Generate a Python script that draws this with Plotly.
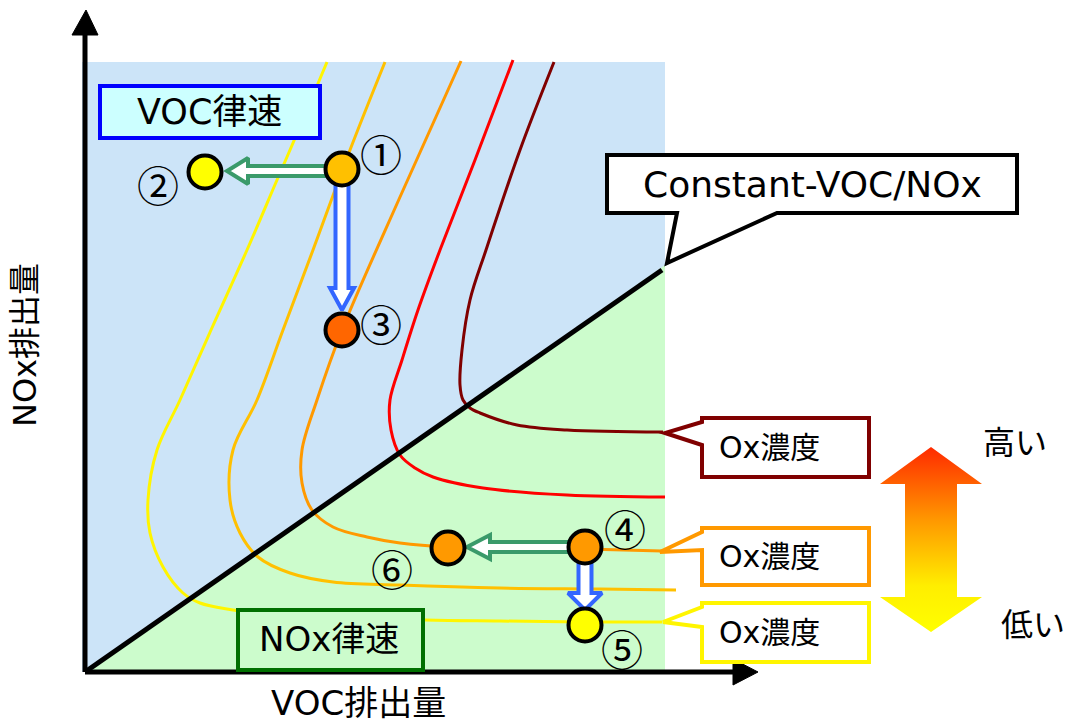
import math
import plotly.graph_objects as go

# coordinates: VOC emission (x) / NOx emission (y), origin at the axes corner
# ---- Ox isopleths (low -> high) ----
iso_colors = ['#FFF500', '#FFC000', '#FF9900', '#FF0000', '#800000']
iso_yellow_x = [242, 208, 192, 162, 126, 95, 72, 63, 65, 78, 98, 115, 148, 175, 340, 415, 500, 577]
iso_yellow_y = [610, 529, 492, 422, 342, 272, 222, 172, 139, 105, 79, 69, 62, 58, 52, 51, 50, 50]
iso_amber_x = [300, 265, 228, 198, 172, 148, 145, 155, 173, 205, 248, 315, 415, 515, 591]
iso_amber_y = [610, 522, 422, 342, 272, 222, 172, 139, 115, 99, 90, 87, 84, 83, 82]
iso_orange_x = [376, 315, 257, 232, 217, 217, 227, 248, 282, 315, 363, 500, 577]
iso_orange_y = [611, 475, 342, 272, 222, 189, 162, 145, 135, 129, 125, 123, 121]
iso_red_x = [428, 390, 355, 333, 317, 305, 306, 315, 330, 348, 398, 482, 580]
iso_red_y = [612, 512, 422, 362, 312, 272, 242, 217, 204, 195, 184, 177, 175]
iso_dark_x = [469, 435, 401, 385, 377, 375, 378, 385, 395, 432, 482, 578]
iso_dark_y = [610, 522, 422, 372, 322, 287, 272, 264, 259, 247, 242, 240]

# ---- scenario points ----
pt_labels = ['①', '②', '③', '④', '⑤', '⑥']
pt_x = [257, 120, 257, 500, 500, 363]
pt_y = [503, 500, 342, 125, 47, 124]
pt_colors = ['#FFC000', '#FFFF00', '#FF6600', '#FF9900', '#FFFF00', '#FF9900']
lbl_x = [296, 73, 296, 540, 537, 307]
lbl_y = [520, 489, 350, 145, 25, 105]

# ---- emission-reduction arrows (start -> end) ----
arr_x0 = [245, 257, 488, 500]
arr_y0 = [501, 490, 125, 112]
arr_x1 = [142, 257, 382, 500]
arr_y1 = [501, 362, 125, 62]
arr_colors = ['#3A9A6A', '#3366FF', '#3A9A6A', '#3366FF']
arr_shaft = [5, 6.5, 5, 6.5]
arr_head_w = [13, 12, 12, 17]
arr_head_len = [21, 22, 23, 17]

# ---- regime areas & constant VOC/NOx line ----
region_x = [-3, 580]
region_y = [0, 610]
ratio_line_x = [0, 577]
ratio_line_y = [0, 402]
green_tri_x = [0, 580, 580]
green_tri_y = [0, 407, 0]

# ---- Ox label boxes (dark red, orange, yellow) ----
ox_colors = ['#800000', '#FF9900', '#FFF500']
ox_box_x = [617, 784]
ox_box_y0 = [195, 87, 10]
ox_box_y1 = [254, 144, 69]
ox_ptr_hi = [250, 140, 65]
ox_ptr_lo = [227, 122, 45]
ox_tip_x = [580, 575, 578]
ox_tip_y = [239, 120, 50]
ox_text_x = 684
ox_text_y = [225, 116, 40]

LATIN = 'DejaVu Sans, Noto Sans CJK JP'
CJK = 'Noto Sans CJK JP'


def arrow_poly(x0, y0, x1, y1, shaft, head_w, head_len):
    dx, dy = x1 - x0, y1 - y0
    ln = math.hypot(dx, dy)
    ux, uy = dx / ln, dy / ln
    nx, ny = -uy, ux
    bx, by = x1 - ux * head_len, y1 - uy * head_len
    px = [x0 + nx * shaft, bx + nx * shaft, bx + nx * head_w, x1,
          bx - nx * head_w, bx - nx * shaft, x0 - nx * shaft, x0 + nx * shaft]
    py = [y0 + ny * shaft, by + ny * shaft, by + ny * head_w, y1,
          by - ny * head_w, by - ny * shaft, y0 - ny * shaft, y0 + ny * shaft]
    return px, py


def path(xs, ys):
    return 'M ' + ' L '.join(f'{a},{b}' for a, b in zip(xs, ys)) + ' Z'


fig = go.Figure()

# background regimes
fig.add_shape(type='rect', x0=region_x[0], x1=region_x[1], y0=region_y[0], y1=region_y[1],
              fillcolor='#CCE4F8', line_width=0, layer='below')
fig.add_shape(type='path', path=path(green_tri_x, green_tri_y),
              fillcolor='#CCFCCC', line_width=0, layer='below')

# isopleths
curves = [(iso_yellow_x, iso_yellow_y), (iso_amber_x, iso_amber_y), (iso_orange_x, iso_orange_y),
          (iso_red_x, iso_red_y), (iso_dark_x, iso_dark_y)]
for (cx, cy), col in zip(curves, iso_colors):
    fig.add_trace(go.Scatter(x=cx, y=cy, mode='lines', line=dict(color=col, width=3, shape='spline'),
                             hoverinfo='skip'))

# constant VOC/NOx ratio line
fig.add_trace(go.Scatter(x=ratio_line_x, y=ratio_line_y, mode='lines',
                         line=dict(color='black', width=5), hoverinfo='skip'))

# axes with arrow heads
fig.add_trace(go.Scatter(x=[0, 0], y=[0, 637], mode='lines', line=dict(color='black', width=5),
                         hoverinfo='skip'))
fig.add_trace(go.Scatter(x=[0, 648], y=[0, 0], mode='lines', line=dict(color='black', width=5),
                         hoverinfo='skip'))
fig.add_trace(go.Scatter(x=[-13, 13, 1, -13], y=[637, 637, 662, 637], fill='toself', mode='lines',
                         fillcolor='black', line=dict(color='black', width=1), hoverinfo='skip'))
fig.add_trace(go.Scatter(x=[648, 648, 673, 648], y=[13, -13, 0, 13], fill='toself', mode='lines',
                         fillcolor='black', line=dict(color='black', width=1), hoverinfo='skip'))

# hollow arrows
for i in range(len(arr_x0)):
    ax, ay = arrow_poly(arr_x0[i], arr_y0[i], arr_x1[i], arr_y1[i],
                        arr_shaft[i], arr_head_w[i], arr_head_len[i])
    fig.add_trace(go.Scatter(x=ax, y=ay, fill='toself', fillcolor='white', mode='lines',
                             line=dict(color=arr_colors[i], width=4), hoverinfo='skip'))

# scenario points
fig.add_trace(go.Scatter(x=pt_x, y=pt_y, mode='markers',
                         marker=dict(size=33, color=pt_colors, line=dict(color='black', width=4)),
                         hoverinfo='skip'))
for t, x, y in zip(pt_labels, lbl_x, lbl_y):
    fig.add_annotation(x=x, y=y, text=t, showarrow=False, font=dict(family=CJK, size=42, color='black'))

# regime boxes
fig.add_shape(type='rect', x0=15, x1=235, y0=534, y1=586, fillcolor='#CCFFFF',
              line=dict(color='#0000FF', width=4), layer='above')
fig.add_annotation(x=124, y=560, text='VOC律速', showarrow=False,
                   font=dict(family=LATIN, size=35, color='black'))
fig.add_shape(type='rect', x0=153, x1=338, y0=2, y1=62, fillcolor='#CCFCCC',
              line=dict(color='#007000', width=4), layer='above')
fig.add_annotation(x=244, y=33, text='NOx律速', showarrow=False,
                   font=dict(family=LATIN, size=34, color='black'))

# constant VOC/NOx callout
fig.add_shape(type='path',
              path=path([522, 932, 932, 692, 582, 592, 522], [517, 517, 459, 459, 409, 459, 459]),
              fillcolor='white', line=dict(color='black', width=4), layer='above')
fig.add_annotation(x=727, y=488, text='Constant-VOC/NOx', showarrow=False,
                   font=dict(family=LATIN, size=36, color='black'))

# Ox callouts
for i, col in enumerate(ox_colors):
    bx = [ox_box_x[0], ox_box_x[1], ox_box_x[1], ox_box_x[0], ox_box_x[0], ox_tip_x[i], ox_box_x[0]]
    by = [ox_box_y1[i], ox_box_y1[i], ox_box_y0[i], ox_box_y0[i], ox_ptr_lo[i], ox_tip_y[i], ox_ptr_hi[i]]
    fig.add_shape(type='path', path=path(bx, by), fillcolor='white',
                  line=dict(color=col, width=4), layer='above')
    fig.add_annotation(x=ox_text_x, y=ox_text_y[i], text='Ox濃度', showarrow=False,
                       font=dict(family=LATIN, size=30, color='black'))

# high / low gradient double arrow
ga_x = [846, 897, 872, 872, 897, 846, 795, 820, 820, 795, 846]
ga_y = [225, 188, 188, 75, 75, 40, 75, 75, 188, 188, 225]
fig.add_trace(go.Scatter(x=ga_x, y=ga_y, fill='toself', mode='lines', line=dict(width=0),
                         fillgradient=dict(type='vertical',
                                           colorscale=[[0, '#FFFF00'], [0.25, '#FFEE00'],
                                                       [0.6, '#FF9900'], [1, '#FF2A00']]),
                         hoverinfo='skip'))
fig.add_annotation(x=930, y=232, text='高い', showarrow=False, font=dict(family=CJK, size=32, color='black'))
fig.add_annotation(x=948, y=50, text='低い', showarrow=False, font=dict(family=CJK, size=32, color='black'))

# axis titles
fig.add_annotation(x=273, y=-31, text='VOC排出量', showarrow=False,
                   font=dict(family=LATIN, size=34, color='black'))
fig.add_annotation(x=-60, y=327, text='NOx排出量', showarrow=False, textangle=-90,
                   font=dict(family=LATIN, size=32, color='black'))

fig.update_layout(
    width=1072, height=722,
    margin=dict(l=0, r=0, t=0, b=0),
    paper_bgcolor='white', plot_bgcolor='white',
    showlegend=False,
    xaxis=dict(range=[-85, 987], visible=False, fixedrange=True),
    yaxis=dict(range=[-50, 672], visible=False, fixedrange=True),
)

fig.write_html("out.html", post_script="document.body.style.margin='0';",
               config={'displayModeBar': False})
